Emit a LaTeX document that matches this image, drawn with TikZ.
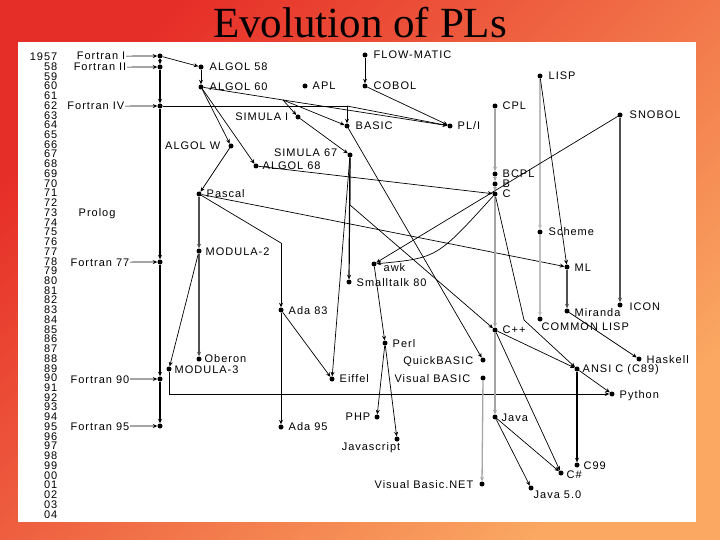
\documentclass[tikz,border=0pt]{standalone}
\usepackage{fontspec}
\setmainfont{Liberation Serif}
\newfontfamily\labfont[LetterSpace=9]{Liberation Sans}
\usetikzlibrary{arrows.meta}
\definecolor{bgA}{RGB}{230,46,40}
\definecolor{bgB}{RGB}{250,168,98}
\definecolor{dgray}{RGB}{80,80,80}
\definecolor{lgray}{RGB}{190,190,190}
\definecolor{mgray}{RGB}{165,165,165}
\begin{document}
\begin{tikzpicture}[x=1pt,y=-1pt,
  lab/.style={font=\labfont\fontsize{11}{12}\selectfont, inner sep=0.5pt, text depth=0pt},
  dot/.style={circle, fill=black, inner sep=0pt, minimum size=5pt},
  tip/.style={-{Stealth[length=4.5pt,width=4pt]}},
  ln/.style={line width=0.7pt},
  arr/.style={ln, tip},
  farr/.style={line width=1.1pt, tip},
  barr/.style={line width=1.2pt, tip},
  darr/.style={line width=2pt, dgray, tip},
  larr/.style={line width=2.2pt, lgray, tip},
  carr/.style={line width=1.4pt, mgray, tip},
  garr/.style={line width=1.3pt, mgray, tip}]
\useasboundingbox (0,0) rectangle (720,540);
\shade[top color=bgA, bottom color=bgB, shading angle=45] (0,0) rectangle (720,540);
\fill[white] (18,42) rectangle (696,522);
\node[font=\fontsize{43}{48}\selectfont, anchor=base, inner sep=0pt] (title) at (360,38) {Evolution of PLs};
% years
\foreach \t [count=\i from 0] in {1957,58,59,60,61,62,63,64,65,66,67,68,69,70,71,72,73,74,75,76,77,78,79,80,81,82,83,84,85,86,87,88,89,90,91,92,93,94,95,96,97,98,99,00,01,02,03,04}
  \node[lab, anchor=base east] (yr\i) at (58,{60.7+9.73*\i}) {\t};
% dots
\node[dot] (fI) at (160,56) {};
\node[dot] (fII) at (160,67) {};
\node[dot] (fIV) at (160,106) {};
\node[dot] (f77) at (160,262) {};
\node[dot] (f90) at (160,379) {};
\node[dot] (f95) at (160,426) {};
\node[dot] (a58) at (201,67) {};
\node[dot] (a60) at (201,87) {};
\node[dot] (apl) at (305,86) {};
\node[dot] (flow) at (365,55) {};
\node[dot] (cobol) at (365,86) {};
\node[dot] (lisp) at (540,76) {};
\node[dot] (cpl) at (495,106) {};
\node[dot] (snobol) at (620,115) {};
\node[dot] (sim1) at (298,117) {};
\node[dot] (basic) at (347,126) {};
\node[dot] (pli) at (450,126) {};
\node[dot] (algw) at (231,146) {};
\node[dot] (sim67) at (350,155) {};
\node[dot] (a68) at (256,166) {};
\node[dot] (bcpl) at (495,174) {};
\node[dot] (b) at (495,184) {};
\node[dot] (c) at (495,194) {};
\node[dot] (pascal) at (199,194) {};
\node[dot] (scheme) at (540,232) {};
\node[dot] (mod2) at (199,251) {};
\node[dot] (ml) at (567,267) {};
\node[dot] (awk) at (374,264) {};
\node[dot] (st80) at (349,282) {};
\node[dot] (ada83) at (281,310) {};
\node[dot] (icon) at (620,305) {};
\node[dot] (miranda) at (567,311) {};
\node[dot] (clisp) at (540,319) {};
\node[dot] (cpp) at (495,330) {};
\node[dot] (perl) at (385,343) {};
\node[dot] (qb) at (483,360) {};
\node[dot] (haskell) at (639,359) {};
\node[dot] (oberon) at (199,359) {};
\node[dot] (mod3) at (169,369) {};
\node[dot] (ansic) at (577,369) {};
\node[dot] (eiffel) at (332,379) {};
\node[dot] (vb) at (483,378) {};
\node[dot] (python) at (612,394) {};
\node[dot] (php) at (377,417) {};
\node[dot] (ada95) at (281,427) {};
\node[dot] (java) at (495,417) {};
\node[dot] (js) at (397,439) {};
\node[dot] (c99) at (577,465) {};
\node[dot] (csharp) at (561,473) {};
\node[dot] (vbnet) at (482,484) {};
\node[dot] (java5) at (531,488) {};
% bend points
\coordinate (a60k) at (283,100);
\coordinate (fivk) at (347,106);
\coordinate (s67k) at (350,205);
\coordinate (adak) at (281,243);
\coordinate (ck) at (524,320);
% labels
\node[lab, anchor=base east] (tFI) at (126,60) {Fortran I};
\node[lab, anchor=base east] (tFII) at (127,71) {Fortran II};
\node[lab, anchor=base east] (tFIV) at (125,110) {Fortran IV};
\node[lab, anchor=base east] (tF77) at (130,266) {Fortran 77};
\node[lab, anchor=base east] (tF90) at (130,383) {Fortran 90};
\node[lab, anchor=base east] (tF95) at (130,430) {Fortran 95};
\node[lab, anchor=base west] (tA58) at (209,71) {ALGOL 58};
\node[lab, anchor=base west] (tA60) at (209,91) {ALGOL 60};
\node[lab, anchor=base west] (tAPL) at (312,90) {APL};
\node[lab, anchor=base west] (tFLOW) at (373,59) {FLOW-MATIC};
\node[lab, anchor=base west] (tCOBOL) at (373,90) {COBOL};
\node[lab, anchor=base west] (tLISP) at (548,80) {LISP};
\node[lab, anchor=base west] (tCPL) at (502,110) {CPL};
\node[lab, anchor=base west] (tSNOBOL) at (629,119) {SNOBOL};
\node[lab, anchor=base east] (tSIM1) at (289,121) {SIMULA I};
\node[lab, anchor=base west] (tBASIC) at (355,130) {BASIC};
\node[lab, anchor=base west] (tPLI) at (457,130) {PL/I};
\node[lab, anchor=base east] (tALGW) at (221,150) {ALGOL W};
\node[lab, anchor=base east] (tSIM67) at (338,156.7) {SIMULA 67};
\node[lab, anchor=base west] (tA68) at (262,169.7) {ALGOL 68};
\node[lab, anchor=base west] (tBCPL) at (502,177.5) {BCPL};
\node[lab, anchor=base west] (tB) at (502,187.6) {B};
\node[lab, anchor=base west] (tC) at (502,198) {C};
\node[lab, anchor=base west] (tPascal) at (206,198) {Pascal};
\node[lab, anchor=base west] (tProlog) at (78,216) {Prolog};
\node[lab, anchor=base west] (tScheme) at (548,236) {Scheme};
\node[lab, anchor=base west] (tMOD2) at (205,255) {MODULA-2};
\node[lab, anchor=base west] (tML) at (574,271) {ML};
\node[lab, anchor=base west] (tawk) at (383,271) {awk};
\node[lab, anchor=base west] (tST80) at (356,286) {Smalltalk 80};
\node[lab, anchor=base west] (tADA83) at (288,314) {Ada 83};
\node[lab, anchor=base west] (tICON) at (629,310.7) {ICON};
\node[lab, anchor=base west] (tMiranda) at (574,316) {Miranda};
\node[lab, anchor=base west] (tCLISP) at (541,330) {COMMON LISP};
\node[lab, anchor=base west] (tCPP) at (502,333.2) {C++};
\node[lab, anchor=base west] (tPerl) at (392,347) {Perl};
\node[lab, anchor=base east] (tQB) at (474,364) {QuickBASIC};
\node[lab, anchor=base west] (tHaskell) at (646,363) {Haskell};
\node[lab, anchor=base west] (tOberon) at (204,362.2) {Oberon};
\node[lab, anchor=base west] (tMOD3) at (174,373) {MODULA-3};
\node[lab, anchor=base west] (tANSIC) at (582,372.2) {ANSI C (C89)};
\node[lab, anchor=base west] (tEiffel) at (339,382.7) {Eiffel};
\node[lab, anchor=base east] (tVB) at (471,382) {Visual BASIC};
\node[lab, anchor=base west] (tPython) at (619,398) {Python};
\node[lab, anchor=base east] (tPHP) at (371,420.2) {PHP};
\node[lab, anchor=base west] (tADA95) at (288,430.7) {Ada 95};
\node[lab, anchor=base west] (tJava) at (501,421.2) {Java};
\node[lab, anchor=base] (tJS) at (371,450.2) {Javascript};
\node[lab, anchor=base west] (tC99) at (583,469) {C99};
\node[lab, anchor=base west] (tCS) at (566,478.7) {C\#};
\node[lab, anchor=base east] (tVBNET) at (474,488) {Visual Basic.NET};
\node[lab, anchor=base west] (tJava5) at (533,498.7) {Java 5.0};
% Fortran
\draw[farr] (fI) -- (fII);
\draw[farr] (fII) -- (fIV);
\draw[farr] (fIV) -- (f77);
\draw[farr] (f77) -- (f90);
\draw[farr] (f90) -- (f95);
\draw[arr] (tFI) -- (fI);
\draw[arr] (tFII) -- (fII);
\draw[arr] (tFIV) -- (fIV);
\draw[arr] (tF77) -- (f77);
\draw[arr] (tF90) -- (f90);
\draw[arr] (tF95) -- (f95);
% ALGOL family
\draw[arr] (fI) -- (a58);
\draw[arr] (a58) -- (a60);
\draw[arr] (flow) -- (cobol);
\draw[arr] (a60) -- (algw);
\draw[arr] (a60) -- (a68);
\draw[ln] (a60) -- (a60k);
\draw[arr] (a60k) -- (pli);
\draw[arr] (a60k) -- (sim1);
\draw[arr] (a60k) -- (basic);
\draw[arr] (cobol) -- (pli);
\draw[ln] (fIV) -- (fivk);
\draw[arr] (fivk) -- (basic);
\draw[arr] (fivk) -- (pli);
\draw[arr] (sim1) -- (sim67);
\draw[arr] (algw) -- (pascal);
\draw[arr] (a68) -- (c);
\draw[arr] (basic) -- (qb);
\draw[barr] (sim67) -- (st80);
\draw[arr] (sim67) -- (eiffel);
\draw[arr] (sim67) -- (s67k) -- (cpp);
\draw[ln] (pascal) -- (adak);
\draw[arr] (adak) -- (ada83);
\draw[arr] (ada83) -- (ada95);
\draw[arr] (ada83) -- (eiffel);
\draw[darr] (pascal) -- (mod2);
\draw[darr] (mod2) -- (oberon);
\draw[arr] (mod2) -- (mod3);
\draw[arr] (mod3) |- (python);
\draw[arr] (pascal) -- (ml);
% LISP, SNOBOL
\draw[larr] (lisp) -- (scheme);
\draw[larr] (scheme) -- (clisp);
\draw[arr] (lisp) -- (ml);
\draw[darr] (ml) -- (miranda);
\draw[arr] (miranda) -- (haskell);
\draw[darr] (snobol) -- (icon);
\draw[arr] (snobol) -- (awk);
% C family
\draw[carr] (cpl) -- (bcpl);
\draw[carr] (bcpl) -- (b);
\draw[carr] (b) -- (c);
\draw[carr] (c) -- (cpp);
\draw[carr] (cpp) -- (java);
\draw[arr] (c) .. controls (437,258) .. (awk);
\draw[arr] (c) -- (ck) -- (ansic);
\draw[arr] (cpp) -- (ansic);
\draw[arr] (ansic) -- (python);
\draw[farr] (ansic) -- (c99);
\draw[arr] (cpp) -- (csharp);
\draw[arr] (java) -- (csharp);
\draw[arr] (java) -- (java5);
\draw[arr] (awk) -- (perl);
\draw[arr] (perl) -- (php);
\draw[arr] (perl) -- (js);
\draw[garr] (vb) -- (vbnet);
\end{tikzpicture}
\end{document}
